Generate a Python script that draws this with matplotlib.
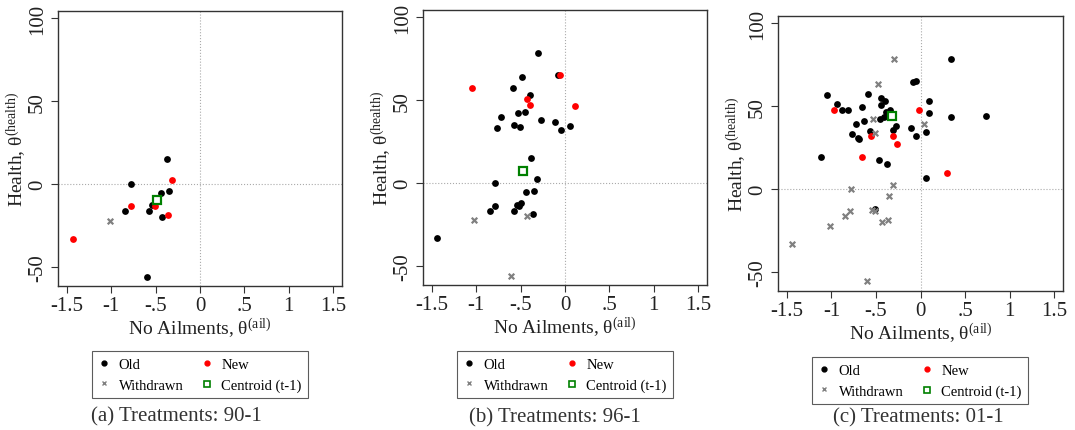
import matplotlib
matplotlib.use("Agg")
import matplotlib.pyplot as plt
from matplotlib.lines import Line2D

plt.rcParams['font.family'] = ['Liberation Serif', 'DejaVu Serif']
plt.rcParams['mathtext.fontset'] = 'custom'
plt.rcParams['mathtext.rm'] = 'Liberation Serif'
plt.rcParams['mathtext.it'] = 'Liberation Serif'

# panel (a) 90-1
old_x_a = [-0.375, -0.78, -0.435, -0.345, -0.536, -0.85, -0.57, -0.43, -0.60]
old_y_a = [15.1, 0.0, -5.2, -4.2, -12.9, -16.5, -16.5, -19.8, -55.8]
new_x_a = [-0.31, -0.78, -0.51, -0.356, -1.436]
new_y_a = [2.2, -13.3, -13.3, -18.8, -32.9]
wd_x_a = [-1.01]
wd_y_a = [-22.0]
cen_a = (-0.49, -9.7)

# panel (b) 96-1
old_x_b = [-0.30, -0.48, -0.08, -0.59, -0.40, -0.53, -0.45, -0.72, -0.77, -0.57,
           -0.51, -0.27, -0.11, -0.05, 0.06, -0.38, -0.31, -0.79, -0.44, -0.35,
           -0.54, -0.50, -0.52, -0.79, -0.85, -0.58, -0.36, -1.44]
old_y_b = [78.5, 63.8, 65.2, 57.7, 53.0, 42.1, 42.7, 39.7, 33.4, 34.8,
           33.8, 38.3, 37.0, 32.2, 34.2, 15.2, 2.2, 0.0, -5.3, -4.5,
           -13.2, -12.3, -13.6, -13.8, -16.6, -16.6, -18.8, -33.0]
new_x_b = [-1.05, -0.056, -0.43, -0.39, 0.11]
new_y_b = [57.3, 65.4, 50.8, 47.0, 46.4]
wd_x_b = [-1.02, -0.43, -0.61]
wd_y_b = [-22.3, -19.8, -56.0]
cen_b = (-0.47, 7.3)

# panel (c) 01-1
old_x_c = [0.34, -1.05, -0.94, -0.88, -0.81, -0.66, -0.59, -0.44, -0.40, -0.44,
           -0.345, -0.39, -0.41, -0.45, -0.63, -0.72, -0.77, -0.70, -0.69, -0.57,
           -0.27, -0.31, -0.11, -0.05, 0.06, -0.08, -0.05, 0.10, 0.10, 0.34,
           0.74, -1.12, -0.47, -0.38, 0.06, -0.51]
old_y_c = [78.8, 57.0, 51.4, 48.0, 47.6, 49.8, 57.7, 54.8, 53.2, 50.8,
           47.8, 46.6, 43.3, 42.5, 41.1, 39.5, 33.5, 30.6, 30.0, 35.1,
           38.1, 35.5, 37.1, 32.3, 34.3, 64.9, 65.1, 53.2, 46.2, 43.5,
           44.2, 19.2, 17.7, 15.1, 6.5, -12.1]
new_x_c = [-0.97, -0.015, -0.555, -0.31, -0.26, -0.66, 0.30]
new_y_c = [47.6, 47.8, 32.0, 31.9, 27.2, 19.2, 9.7]
wd_x_c = [-0.30, -0.48, -0.53, -0.51, 0.034, -0.31, -0.78, -0.35, -0.79, -0.85,
          -0.54, -0.51, -0.43, -0.36, -1.02, -1.44, -0.60]
wd_y_c = [78.4, 63.5, 42.3, 33.7, 39.3, 2.2, 0.0, -4.2, -13.3, -16.5,
          -12.9, -13.3, -19.6, -18.5, -22.0, -32.9, -55.6]
cen_c = (-0.315, 44.4)

captions = ['(a) Treatments: 90-1', '(b) Treatments: 96-1', '(c) Treatments: 01-1']
xticks = [-1.5, -1, -0.5, 0, 0.5, 1, 1.5]
xticklabels = ['-1.5', '-1', '-.5', '0', '.5', '1', '1.5']
yticks = [-50, 0, 50, 100]
yticklabels = ['-50', '0', '50', '100']

W, H = 1075, 431
fig = plt.figure(figsize=(W / 100, H / 100), dpi=100)

# axes boxes in pixels: left, right, top, bottom
boxes = [(58, 342, 12, 287), (423, 707, 11, 286), (778, 1063, 17, 292)]
legend_pos = [(200, 345), (565, 345), (920, 351)]
caption_pos = [(176, 417), (555, 418), (918, 418)]

panels = [
    (old_x_a, old_y_a, new_x_a, new_y_a, wd_x_a, wd_y_a, cen_a),
    (old_x_b, old_y_b, new_x_b, new_y_b, wd_x_b, wd_y_b, cen_b),
    (old_x_c, old_y_c, new_x_c, new_y_c, wd_x_c, wd_y_c, cen_c),
]

for i, (ox, oy, nx, ny, wx, wy, cen) in enumerate(panels):
    l, r, t, b = boxes[i]
    ax = fig.add_axes([l / W, 1 - b / H, (r - l) / W, (b - t) / H])
    ax.axhline(0, color='#aaaaaa', lw=0.8, ls=':', zorder=0)
    ax.axvline(0, color='#aaaaaa', lw=0.8, ls=':', zorder=0)
    ax.scatter(ox, oy, s=24, color='black', lw=0, zorder=3)
    ax.scatter(nx, ny, s=24, color='red', lw=0, zorder=4)
    ax.scatter(wx, wy, s=16, marker='x', color='#808080', lw=1.6, zorder=5)
    ax.plot([cen[0]], [cen[1]], marker='s', ms=6, mfc='white', mec='green',
            mew=1.6, ls='none', zorder=6)
    ax.set_xlim(-1.6, 1.6)
    ax.set_ylim(-61.5, 104.5)
    ax.set_xticks(xticks)
    ax.set_xticklabels(xticklabels)
    ax.set_yticks(yticks)
    ax.set_yticklabels(yticklabels, rotation=90, va='center')
    ax.tick_params(axis='both', labelsize=15, length=5, width=0.8, color='#333333',
                   labelcolor='#222222')
    ax.tick_params(axis='x', pad=2)
    ax.tick_params(axis='y', pad=3)
    for sp in ax.spines.values():
        sp.set_color('#333333')
        sp.set_linewidth(1.0)
    ax.set_xlabel(r'No Ailments, $\mathregular{θ^{(ail)}}$', fontsize=14, labelpad=0,
                  color='#222222')
    ax.set_ylabel(r'Health, $\mathregular{θ^{(health)}}$', fontsize=14, labelpad=0,
                  color='#222222')

    handles = [
        Line2D([], [], marker='o', ls='none', color='black', ms=3.5),
        Line2D([], [], marker='x', ls='none', color='#808080', ms=3.5, mew=1),
        Line2D([], [], marker='o', ls='none', color='red', ms=3.5),
        Line2D([], [], marker='s', ls='none', mfc='white', mec='green', ms=4.5, mew=1.2),
    ]
    labels = ['Old', 'Withdrawn', 'New', 'Centroid (t-1)']
    lx, ly = legend_pos[i]
    leg = ax.legend(handles, labels, ncol=2, loc='upper center',
                    bbox_to_anchor=(lx / W, 1 - ly / H), bbox_transform=fig.transFigure,
                    fontsize=10.5, frameon=True, fancybox=False, edgecolor='#333333',
                    handlelength=0.8, handletextpad=0.6, columnspacing=1.2,
                    borderpad=0.45, labelspacing=0.5)
    leg.get_frame().set_linewidth(0.8)
    cx, cy = caption_pos[i]
    fig.text(cx / W, 1 - cy / H, captions[i],
             ha='center', va='center', fontsize=15, color='#333333')

fig.savefig('out.png', dpi=100)
